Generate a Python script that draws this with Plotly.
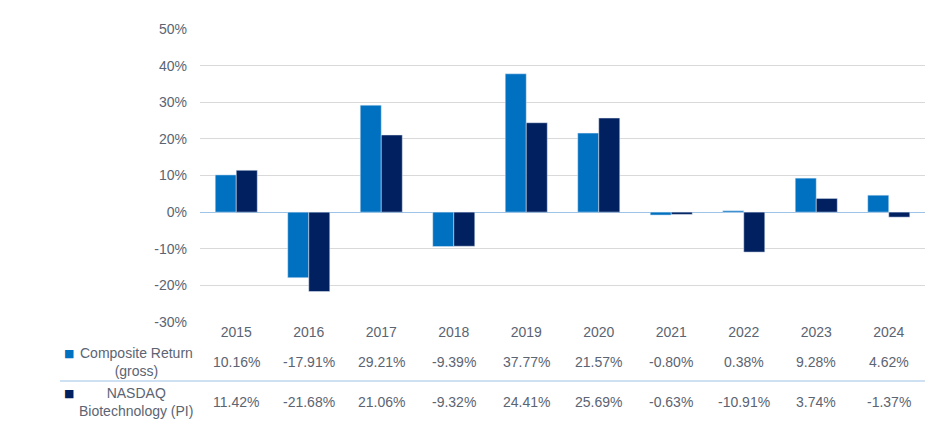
import plotly.graph_objects as go

years = ["2015", "2016", "2017", "2018", "2019", "2020", "2021", "2022", "2023", "2024"]
composite = [10.16, -17.91, 29.21, -9.39, 37.77, 21.57, -0.80, 0.38, 9.28, 4.62]
nasdaq = [11.42, -21.68, 21.06, -9.32, 24.41, 25.69, -0.63, -10.91, 3.74, -1.37]
series_names = ["Composite Return<br>(gross)", "NASDAQ<br>Biotechnology (PI)"]
y_ticks = [-30, -20, -10, 0, 10, 20, 30, 40, 50]
colors = ["#0070C0", "#002060"]
text_color = "#5B6472"
font_family = "Liberation Sans, Arial, sans-serif"
fs = 14

OFF = 8  # page body margin
W, H = 945 - OFF, 427 - OFF
# reference pixel positions of plot area
ref_L, ref_R, ref_T, ref_B = 200, 925, 29, 322
L, T = ref_L - OFF, ref_T - OFF
R = W - (ref_R - OFF)
B = H - (ref_B - OFF)
pw, ph = W - L - R, H - T - B

def px_x(px):
    return (px - OFF - L) / pw

def px_y(py):
    return (ref_B - py) / ph

idx = list(range(len(years)))

fig = go.Figure()
fig.add_trace(go.Bar(x=idx, y=composite, name="Composite", marker_color=colors[0], showlegend=False))
fig.add_trace(go.Bar(x=idx, y=nasdaq, name="NASDAQ", marker_color=colors[1], showlegend=False))

annotations = []
rows = [composite, nasdaq]
row_y = [362, 402]
for r, vals in enumerate(rows):
    for i, v in zip(idx, vals):
        annotations.append(dict(x=i, xref="x", y=px_y(row_y[r]), yref="paper",
                                xanchor="center", yanchor="middle",
                                text=f"{v:.2f}%", showarrow=False,
                                font=dict(size=fs, color=text_color, family=font_family)))
    annotations.append(dict(x=px_x(136), xref="paper", y=px_y(row_y[r]), yref="paper",
                            xanchor="center", yanchor="middle",
                            text=series_names[r], showarrow=False, align="center",
                            font=dict(size=fs, color=text_color, family=font_family)))
    annotations.append(dict(x=px_x(69), xref="paper", y=px_y(row_y[r] - 9), yref="paper",
                            xanchor="center", yanchor="middle",
                            text="■", showarrow=False,
                            font=dict(size=11, color=colors[r], family="DejaVu Sans")))

shapes = [dict(type="line", xref="paper", yref="paper", x0=px_x(60), x1=1.0,
               y0=px_y(381), y1=px_y(381), line=dict(color="#9DC3E6", width=1))]

fig.update_layout(
    width=W, height=H,
    margin=dict(l=L, r=R, t=T, b=B, autoexpand=False),
    paper_bgcolor="white", plot_bgcolor="white",
    barmode="group", bargap=0.42, bargroupgap=0,
    font=dict(family=font_family, size=fs, color=text_color),
    xaxis=dict(tickmode="array", tickvals=idx, ticktext=years,
               tickfont=dict(size=fs, color=text_color),
               showgrid=False, showline=False, zeroline=False, ticks="", range=[-0.5, 9.5]),
    yaxis=dict(range=[-30, 50], tickmode="array", tickvals=y_ticks,
               ticktext=[f"{t}%" for t in y_ticks], showgrid=True,
               gridcolor="#D9D9D9", gridwidth=1, zeroline=True, zerolinecolor="#9DC3E6",
               zerolinewidth=1, tickfont=dict(size=fs, color=text_color), ticks="",
               ticklabelstandoff=12, showline=False),
    annotations=annotations,
    shapes=shapes,
)

fig.write_html("out.html")
